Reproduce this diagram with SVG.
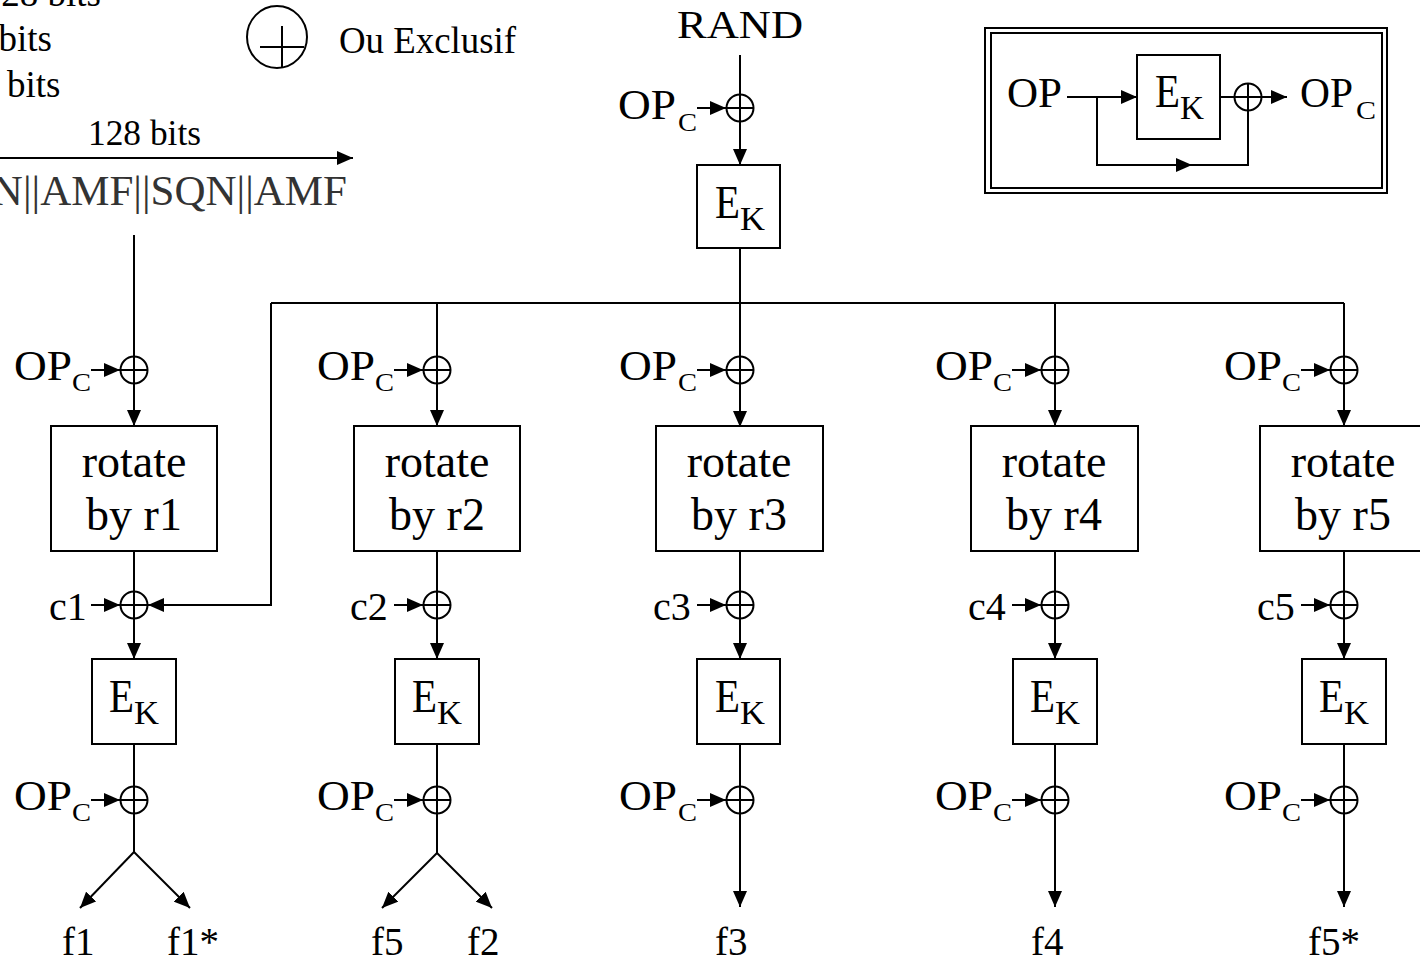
<svg xmlns="http://www.w3.org/2000/svg" xmlns:xlink="http://www.w3.org/1999/xlink" width="1420" height="964" viewBox="0 0 1420 964">
<style>
.ln{stroke:#000;stroke-width:2;fill:none}
.bx{fill:#fff;stroke:#000;stroke-width:2}
.xr{fill:none;stroke:#000;stroke-width:2}
text{font-family:"Liberation Serif","Times New Roman",serif;fill:#000}
.t40{font-size:40px}
.f{font-size:39px}
.op{font-size:42px}
.sub{font-size:26px}
.rot{font-size:46px;text-anchor:middle}
.e{font-size:46px}
.k{font-size:33px}
</style>
<defs>
<marker id="ah" markerUnits="userSpaceOnUse" markerWidth="16" markerHeight="14" refX="16" refY="7" orient="auto"><path d="M0,0 L16,7 L0,14 z" fill="#000"/></marker>
<g id="xor" class="xr"><circle r="13.5"/><line x1="-13.5" y1="0" x2="13.5" y2="0"/><line x1="0" y1="-13.5" x2="0" y2="13.5"/></g>
</defs>
<rect width="1420" height="964" fill="#fff"/>

<g id="legend-top-left">
<text x="101" y="6" text-anchor="end" font-size="37">28 bits</text>
<text x="52" y="51" text-anchor="end" font-size="37">bits</text>
<text x="7" y="97" font-size="37">bits</text>
<text x="88" y="145" font-size="36" textLength="113" lengthAdjust="spacingAndGlyphs">128 bits</text>
<text x="347" y="205" text-anchor="end" font-size="43" style="fill:#333">N||AMF||SQN||AMF</text>
</g>

<g id="legend-xor">
<ellipse cx="277" cy="37" rx="30" ry="31" class="xr"/>
<line x1="260" y1="47" x2="304" y2="47" class="ln"/>
<line x1="282" y1="26" x2="282" y2="68" class="ln"/>
<text x="339" y="53" font-size="38" textLength="177" lengthAdjust="spacingAndGlyphs">Ou Exclusif</text>
</g>

<g id="legend-opc">
<rect x="985" y="28" width="402" height="165" fill="none" stroke="#000" stroke-width="2"/>
<rect x="991" y="33" width="391" height="155" fill="none" stroke="#000" stroke-width="2"/>
<text class="op" x="1007" y="107" textLength="55" lengthAdjust="spacingAndGlyphs">OP</text>
<rect class="bx" x="1137" y="55" width="83" height="84"/>
<text class="e" x="1155" y="107" textLength="25" lengthAdjust="spacingAndGlyphs">E</text>
<text class="k" x="1180" y="119" textLength="24" lengthAdjust="spacingAndGlyphs">K</text>
<line class="ln" x1="1067" y1="97" x2="1137" y2="97" marker-end="url(#ah)"/>
<line class="ln" x1="1220" y1="97" x2="1287" y2="97" marker-end="url(#ah)"/>
<path class="ln" d="M1097,97 V165 H1248 V97"/>
<line class="ln" x1="1170" y1="165" x2="1192" y2="165" marker-end="url(#ah)"/>
<use xlink:href="#xor" x="1248" y="97"/>
<text class="op" x="1300" y="107" textLength="53" lengthAdjust="spacingAndGlyphs">OP</text>
<text class="sub" x="1356" y="119" textLength="20" lengthAdjust="spacingAndGlyphs">C</text>
</g>

<g id="connectors">
<line class="ln" x1="0" y1="158" x2="353" y2="158" marker-end="url(#ah)"/>
<line class="ln" x1="740" y1="55" x2="740" y2="165" marker-end="url(#ah)"/>
<line class="ln" x1="271" y1="303" x2="1344" y2="303"/>
<path class="ln" d="M271,303 V605 H148" marker-end="url(#ah)"/>
<line class="ln" x1="134" y1="235" x2="134" y2="426" marker-end="url(#ah)"/>
<line class="ln" x1="437" y1="303" x2="437" y2="426" marker-end="url(#ah)"/>
<line class="ln" x1="740" y1="248" x2="740" y2="427" marker-end="url(#ah)"/>
<line class="ln" x1="1055" y1="303" x2="1055" y2="426" marker-end="url(#ah)"/>
<line class="ln" x1="1344" y1="303" x2="1344" y2="426" marker-end="url(#ah)"/>
<line class="ln" x1="134" y1="551" x2="134" y2="659" marker-end="url(#ah)"/>
<line class="ln" x1="437" y1="551" x2="437" y2="659" marker-end="url(#ah)"/>
<line class="ln" x1="740" y1="551" x2="740" y2="659" marker-end="url(#ah)"/>
<line class="ln" x1="1055" y1="551" x2="1055" y2="659" marker-end="url(#ah)"/>
<line class="ln" x1="1344" y1="551" x2="1344" y2="659" marker-end="url(#ah)"/>
<line class="ln" x1="134" y1="744" x2="134" y2="852"/>
<line class="ln" x1="134" y1="852" x2="80" y2="908" marker-end="url(#ah)"/>
<line class="ln" x1="134" y1="852" x2="190" y2="908" marker-end="url(#ah)"/>
<line class="ln" x1="437" y1="744" x2="437" y2="853"/>
<line class="ln" x1="437" y1="853" x2="382" y2="908" marker-end="url(#ah)"/>
<line class="ln" x1="437" y1="853" x2="492" y2="908" marker-end="url(#ah)"/>
<line class="ln" x1="740" y1="744" x2="740" y2="907" marker-end="url(#ah)"/>
<line class="ln" x1="1055" y1="744" x2="1055" y2="907" marker-end="url(#ah)"/>
<line class="ln" x1="1344" y1="744" x2="1344" y2="907" marker-end="url(#ah)"/>
<line class="ln" x1="697" y1="108" x2="726" y2="108" marker-end="url(#ah)"/>
<line class="ln" x1="91" y1="370" x2="120" y2="370" marker-end="url(#ah)"/>
<line class="ln" x1="394" y1="370" x2="423" y2="370" marker-end="url(#ah)"/>
<line class="ln" x1="697" y1="370" x2="726" y2="370" marker-end="url(#ah)"/>
<line class="ln" x1="1012" y1="370" x2="1041" y2="370" marker-end="url(#ah)"/>
<line class="ln" x1="1301" y1="370" x2="1330" y2="370" marker-end="url(#ah)"/>
<line class="ln" x1="91" y1="605" x2="120" y2="605" marker-end="url(#ah)"/>
<line class="ln" x1="394" y1="605" x2="423" y2="605" marker-end="url(#ah)"/>
<line class="ln" x1="697" y1="605" x2="726" y2="605" marker-end="url(#ah)"/>
<line class="ln" x1="1012" y1="605" x2="1041" y2="605" marker-end="url(#ah)"/>
<line class="ln" x1="1301" y1="605" x2="1330" y2="605" marker-end="url(#ah)"/>
<line class="ln" x1="91" y1="800" x2="120" y2="800" marker-end="url(#ah)"/>
<line class="ln" x1="394" y1="800" x2="423" y2="800" marker-end="url(#ah)"/>
<line class="ln" x1="697" y1="800" x2="726" y2="800" marker-end="url(#ah)"/>
<line class="ln" x1="1012" y1="800" x2="1041" y2="800" marker-end="url(#ah)"/>
<line class="ln" x1="1301" y1="800" x2="1330" y2="800" marker-end="url(#ah)"/>
</g>

<g id="rand">
<text x="677" y="38" font-size="40" textLength="126" lengthAdjust="spacingAndGlyphs">RAND</text>
</g>
<g id="xor-top">
<use xlink:href="#xor" x="740" y="108"/>
<text class="op" x="618" y="119" textLength="58" lengthAdjust="spacingAndGlyphs">OP</text>
<text class="sub" x="678" y="131" textLength="19" lengthAdjust="spacingAndGlyphs">C</text>
</g>
<g id="ek-top">
<rect class="bx" x="697" y="165" width="83" height="83"/>
<text class="e" x="715" y="218" textLength="25" lengthAdjust="spacingAndGlyphs">E</text>
<text class="k" x="740" y="230" textLength="25" lengthAdjust="spacingAndGlyphs">K</text>
</g>

<!-- column 1 -->
<g id="xor-a1"><use xlink:href="#xor" x="134" y="370"/><text class="op" x="14" y="380" textLength="58" lengthAdjust="spacingAndGlyphs">OP</text><text class="sub" x="72" y="391" textLength="19" lengthAdjust="spacingAndGlyphs">C</text></g>
<g id="rotate1"><rect class="bx" x="51" y="426" width="166" height="125"/><text class="rot" x="134" y="477">rotate</text><text class="rot" x="134" y="530">by r1</text></g>
<g id="xor-b1"><use xlink:href="#xor" x="134" y="605"/><text class="t40" x="49" y="620">c1</text></g>
<g id="ek1"><rect class="bx" x="92" y="659" width="84" height="85"/><text class="e" x="109" y="712" textLength="25" lengthAdjust="spacingAndGlyphs">E</text><text class="k" x="134" y="724" textLength="25" lengthAdjust="spacingAndGlyphs">K</text></g>
<g id="xor-c1"><use xlink:href="#xor" x="134" y="800"/><text class="op" x="14" y="810" textLength="58" lengthAdjust="spacingAndGlyphs">OP</text><text class="sub" x="72" y="821" textLength="19" lengthAdjust="spacingAndGlyphs">C</text></g>
<g id="out1"><text class="f" x="62" y="955">f1</text><text class="f" x="167" y="955">f1*</text></g>

<!-- column 2 -->
<g id="xor-a2"><use xlink:href="#xor" x="437" y="370"/><text class="op" x="317" y="380" textLength="58" lengthAdjust="spacingAndGlyphs">OP</text><text class="sub" x="375" y="391" textLength="19" lengthAdjust="spacingAndGlyphs">C</text></g>
<g id="rotate2"><rect class="bx" x="354" y="426" width="166" height="125"/><text class="rot" x="437" y="477">rotate</text><text class="rot" x="437" y="530">by r2</text></g>
<g id="xor-b2"><use xlink:href="#xor" x="437" y="605"/><text class="t40" x="350" y="620">c2</text></g>
<g id="ek2"><rect class="bx" x="395" y="659" width="84" height="85"/><text class="e" x="412" y="712" textLength="25" lengthAdjust="spacingAndGlyphs">E</text><text class="k" x="437" y="724" textLength="25" lengthAdjust="spacingAndGlyphs">K</text></g>
<g id="xor-c2"><use xlink:href="#xor" x="437" y="800"/><text class="op" x="317" y="810" textLength="58" lengthAdjust="spacingAndGlyphs">OP</text><text class="sub" x="375" y="821" textLength="19" lengthAdjust="spacingAndGlyphs">C</text></g>
<g id="out2"><text class="f" x="371" y="955">f5</text><text class="f" x="467" y="955">f2</text></g>

<!-- column 3 -->
<g id="xor-a3"><use xlink:href="#xor" x="740" y="370"/><text class="op" x="619" y="380" textLength="58" lengthAdjust="spacingAndGlyphs">OP</text><text class="sub" x="678" y="391" textLength="19" lengthAdjust="spacingAndGlyphs">C</text></g>
<g id="rotate3"><rect class="bx" x="656" y="426" width="167" height="125"/><text class="rot" x="739" y="477">rotate</text><text class="rot" x="739" y="530">by r3</text></g>
<g id="xor-b3"><use xlink:href="#xor" x="740" y="605"/><text class="t40" x="653" y="620">c3</text></g>
<g id="ek3"><rect class="bx" x="697" y="659" width="83" height="85"/><text class="e" x="715" y="712" textLength="25" lengthAdjust="spacingAndGlyphs">E</text><text class="k" x="740" y="724" textLength="25" lengthAdjust="spacingAndGlyphs">K</text></g>
<g id="xor-c3"><use xlink:href="#xor" x="740" y="800"/><text class="op" x="619" y="810" textLength="58" lengthAdjust="spacingAndGlyphs">OP</text><text class="sub" x="678" y="821" textLength="19" lengthAdjust="spacingAndGlyphs">C</text></g>
<g id="out3"><text class="f" x="715" y="955">f3</text></g>

<!-- column 4 -->
<g id="xor-a4"><use xlink:href="#xor" x="1055" y="370"/><text class="op" x="935" y="380" textLength="58" lengthAdjust="spacingAndGlyphs">OP</text><text class="sub" x="993" y="391" textLength="19" lengthAdjust="spacingAndGlyphs">C</text></g>
<g id="rotate4"><rect class="bx" x="971" y="426" width="167" height="125"/><text class="rot" x="1054" y="477">rotate</text><text class="rot" x="1054" y="530">by r4</text></g>
<g id="xor-b4"><use xlink:href="#xor" x="1055" y="605"/><text class="t40" x="968" y="620">c4</text></g>
<g id="ek4"><rect class="bx" x="1013" y="659" width="84" height="85"/><text class="e" x="1030" y="712" textLength="25" lengthAdjust="spacingAndGlyphs">E</text><text class="k" x="1055" y="724" textLength="25" lengthAdjust="spacingAndGlyphs">K</text></g>
<g id="xor-c4"><use xlink:href="#xor" x="1055" y="800"/><text class="op" x="935" y="810" textLength="58" lengthAdjust="spacingAndGlyphs">OP</text><text class="sub" x="993" y="821" textLength="19" lengthAdjust="spacingAndGlyphs">C</text></g>
<g id="out4"><text class="f" x="1031" y="955">f4</text></g>

<!-- column 5 -->
<g id="xor-a5"><use xlink:href="#xor" x="1344" y="370"/><text class="op" x="1224" y="380" textLength="58" lengthAdjust="spacingAndGlyphs">OP</text><text class="sub" x="1282" y="391" textLength="19" lengthAdjust="spacingAndGlyphs">C</text></g>
<g id="rotate5"><rect class="bx" x="1260" y="426" width="167" height="125"/><text class="rot" x="1343" y="477">rotate</text><text class="rot" x="1343" y="530">by r5</text></g>
<g id="xor-b5"><use xlink:href="#xor" x="1344" y="605"/><text class="t40" x="1257" y="620">c5</text></g>
<g id="ek5"><rect class="bx" x="1302" y="659" width="84" height="85"/><text class="e" x="1319" y="712" textLength="25" lengthAdjust="spacingAndGlyphs">E</text><text class="k" x="1344" y="724" textLength="25" lengthAdjust="spacingAndGlyphs">K</text></g>
<g id="xor-c5"><use xlink:href="#xor" x="1344" y="800"/><text class="op" x="1224" y="810" textLength="58" lengthAdjust="spacingAndGlyphs">OP</text><text class="sub" x="1282" y="821" textLength="19" lengthAdjust="spacingAndGlyphs">C</text></g>
<g id="out5"><text class="f" x="1308" y="955">f5*</text></g>
</svg>
